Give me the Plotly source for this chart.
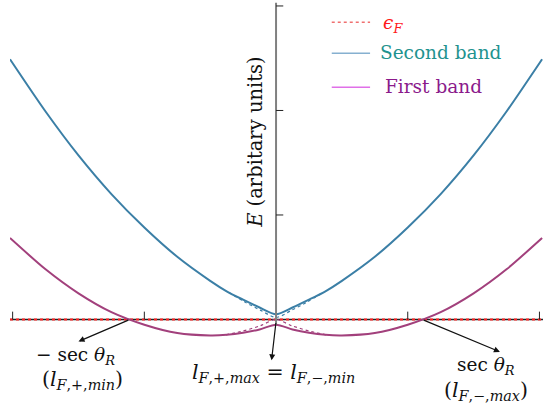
import plotly.graph_objects as go

# Sampled band energies (arbitrary units) against l
l_vals = [-2.02, -1.75, -1.5, -1.25, -1.0, -0.75, -0.5, -0.375, -0.25, -0.125, 0.0,
          0.125, 0.25, 0.375, 0.5, 0.75, 1.0, 1.25, 1.5, 1.75, 2.02]
second_band = [2.49, 1.99, 1.57, 1.20, 0.88, 0.60, 0.37, 0.27, 0.19, 0.115, 0.05,
               0.115, 0.19, 0.27, 0.37, 0.60, 0.88, 1.20, 1.57, 1.99, 2.49]
first_band = [0.78, 0.48, 0.25, 0.07, -0.05, -0.13, -0.153, -0.147, -0.127, -0.095, -0.05,
              -0.095, -0.127, -0.147, -0.153, -0.13, -0.05, 0.07, 0.25, 0.48, 0.78]

# Ungapped branches near l = 0
l_gapless_2 = [-0.36, -0.24, -0.12, 0.0, 0.12, 0.24, 0.36]
second_gapless = [0.26, 0.17, 0.09, 0.02, 0.09, 0.17, 0.26]
l_gapless_1 = [-0.38, -0.25, -0.12, 0.0, 0.12, 0.25, 0.38]
first_gapless = [-0.147, -0.11, -0.06, 0.0, -0.06, -0.11, -0.147]

fermi_level = 0.0
x_ticks = [-2, -1, 1, 2]
y_ticks = [1, 2, 3]
l_cross = 1.11  # where the first band meets the Fermi level

BLUE = "#3b7fa6"
PURPLE = "#a2407c"
SERIF = "DejaVu Serif"
FS = 18.5
FS_SUB = 20.5  # labels dominated by subscripts

X_RANGE = [-2.02, 2.027]
Y_RANGE = [-0.866, 3.057]

fig = go.Figure()

# Fermi level: black baseline with red dots on top
fig.add_trace(go.Scatter(x=X_RANGE, y=[fermi_level, fermi_level], mode="lines",
                         line=dict(color="#222222", width=1.3), hoverinfo="skip"))
fig.add_trace(go.Scatter(x=X_RANGE, y=[fermi_level, fermi_level], mode="lines",
                         line=dict(color="#ff2020", width=2, dash="dot"), hoverinfo="skip"))

# dotted ungapped branches
fig.add_trace(go.Scatter(x=l_gapless_2, y=second_gapless, mode="lines", line_shape="spline",
                         line=dict(color=BLUE, width=1.2, dash="dot", smoothing=0.8), hoverinfo="skip"))
fig.add_trace(go.Scatter(x=l_gapless_1, y=first_gapless, mode="lines", line_shape="spline",
                         line=dict(color=PURPLE, width=1.2, dash="dot", smoothing=0.8), hoverinfo="skip"))

# bands
fig.add_trace(go.Scatter(x=l_vals, y=second_band, mode="lines", line_shape="spline",
                         line=dict(color=BLUE, width=2, smoothing=0.7), name="Second band"))
fig.add_trace(go.Scatter(x=l_vals, y=first_band, mode="lines", line_shape="spline",
                         line=dict(color=PURPLE, width=2, smoothing=0.7), name="First band"))

shapes = []
# vertical energy axis
shapes.append(dict(type="line", xref="x", yref="y", x0=0, x1=0, y0=-0.05, y1=3.03,
                   line=dict(color="#808080", width=2)))
for t in y_ticks:
    shapes.append(dict(type="line", xref="x", yref="y", x0=0, x1=0.055, y0=t, y1=t,
                       line=dict(color="#222222", width=1)))
for t in x_ticks:
    shapes.append(dict(type="line", xref="x", yref="y", x0=t, x1=t, y0=0, y1=0.075,
                       line=dict(color="#222222", width=1)))

# hand-drawn legend
leg_x0, leg_x1 = 0.423, 0.714
shapes.append(dict(type="line", xref="x", yref="y", x0=leg_x0, x1=leg_x1, y0=2.845, y1=2.845,
                   line=dict(color="#f07070", width=1.5, dash="dot")))
shapes.append(dict(type="line", xref="x", yref="y", x0=leg_x0, x1=leg_x1, y0=2.547, y1=2.547,
                   line=dict(color="#86b0d0", width=1.5)))
shapes.append(dict(type="line", xref="x", yref="y", x0=leg_x0, x1=leg_x1, y0=2.222, y1=2.222,
                   line=dict(color="#e070e8", width=1.5)))

annotations = [
    dict(x=0.80, y=2.83, xref="x", yref="y", xanchor="left", yanchor="middle", showarrow=False,
         text="<i>ϵ</i><sub><i>F</i></sub>", font=dict(family=SERIF, size=FS, color="#ff1a1a")),
    dict(x=0.775, y=2.55, xref="x", yref="y", xanchor="left", yanchor="middle", showarrow=False,
         text="Second band", font=dict(family=SERIF, size=FS, color="#1f938f")),
    dict(x=0.812, y=2.225, xref="x", yref="y", xanchor="left", yanchor="middle", showarrow=False,
         text="First band", font=dict(family=SERIF, size=FS, color="#8b1a8b")),
    # axis title
    dict(x=-0.152, y=1.70, xref="x", yref="y", textangle=-90, showarrow=False,
         text="<i>E</i> (arbitary units)", font=dict(family=SERIF, size=19.5, color="#111111")),
    # arrows
    dict(x=-1.50, y=-0.21, ax=-l_cross, ay=fermi_level, xref="x", yref="y", axref="x", ayref="y",
         showarrow=True, arrowhead=2, arrowsize=1, arrowwidth=1.2, arrowcolor="#111111", text=""),
    dict(x=1.70, y=-0.31, ax=l_cross, ay=fermi_level, xref="x", yref="y", axref="x", ayref="y",
         showarrow=True, arrowhead=2, arrowsize=1, arrowwidth=1.2, arrowcolor="#111111", text=""),
    dict(x=-0.034, y=-0.39, ax=0.0, ay=-0.02, xref="x", yref="y", axref="x", ayref="y",
         showarrow=True, arrowhead=2, arrowsize=1, arrowwidth=1.2, arrowcolor="#111111", text=""),
    # labels
    dict(x=-1.52, y=-0.35, xref="x", yref="y", showarrow=False,
         text="− sec <i>θ</i><sub><i>R</i></sub>", font=dict(family=SERIF, size=FS, color="#111111")),
    dict(x=-1.47, y=-0.58, xref="x", yref="y", showarrow=False,
         text="(<i>l</i><sub><i>F</i>,+,<i>min</i></sub>)", font=dict(family=SERIF, size=FS_SUB, color="#111111")),
    dict(x=-0.02, y=-0.51, xref="x", yref="y", showarrow=False,
         text="<i>l</i><sub><i>F</i>,+,<i>max</i></sub> = <i>l</i><sub><i>F</i>,−,<i>min</i></sub>",
         font=dict(family=SERIF, size=FS_SUB, color="#111111")),
    dict(x=1.595, y=-0.445, xref="x", yref="y", showarrow=False,
         text="sec <i>θ</i><sub><i>R</i></sub>", font=dict(family=SERIF, size=FS, color="#111111")),
    dict(x=1.595, y=-0.68, xref="x", yref="y", showarrow=False,
         text="(<i>l</i><sub><i>F</i>,−,<i>max</i></sub>)", font=dict(family=SERIF, size=FS_SUB, color="#111111")),
]

fig.update_layout(
    width=543, height=410,
    margin=dict(l=10, r=0, t=0, b=0),
    paper_bgcolor="white", plot_bgcolor="white",
    showlegend=False,
    xaxis=dict(range=X_RANGE, visible=False, fixedrange=True),
    yaxis=dict(range=Y_RANGE, visible=False, fixedrange=True),
    shapes=shapes,
    annotations=annotations,
)

fig.write_html("out.html")
